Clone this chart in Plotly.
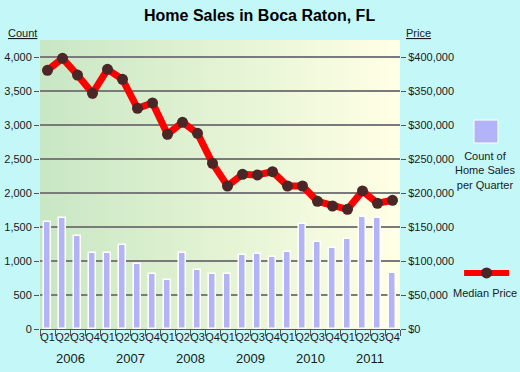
import plotly.graph_objects as go

quarters = ["Q1", "Q2", "Q3", "Q4"] * 6
years = ["2006", "2007", "2008", "2009", "2010", "2011"]
counts = [1570, 1628, 1363, 1113, 1113, 1231, 951, 804, 716, 1113, 863, 804,
          804, 1083, 1098, 1064, 1127, 1539, 1275, 1186, 1319, 1652, 1637, 819]
prices = [380400, 398000, 373500, 346600, 381900, 367200, 324500, 332400,
          286300, 304000, 287700, 243600, 210300, 227500, 226500, 231400,
          210300, 210300, 187800, 180900, 176000, 203000, 184900, 189300]
count_ticks = [0, 500, 1000, 1500, 2000, 2500, 3000, 3500, 4000]
count_labels = ["0", "500", "1,000", "1,500", "2,000", "2,500", "3,000", "3,500", "4,000"]
price_ticks = [0, 50000, 100000, 150000, 200000, 250000, 300000, 350000, 400000]
price_labels = ["$0", "$50,000", "$100,000", "$150,000", "$200,000", "$250,000",
                "$300,000", "$350,000", "$400,000"]

n = len(counts)
xs = list(range(n))
BAR = "#b3b3f7"
TXT = "#1a1a1a"
BG = "#c4f8f8"
FONT = "Liberation Sans, Arial, sans-serif"

fig = go.Figure()
fig.add_trace(go.Bar(x=xs, y=counts, width=0.45, marker=dict(color=BAR, line=dict(color="white", width=1.5)),
                     yaxis="y", xaxis="x", showlegend=False))
fig.add_trace(go.Scatter(x=xs, y=prices, mode="lines+markers", yaxis="y2", xaxis="x",
                         line=dict(color="#ff0000", width=7),
                         marker=dict(color="#4a2626", size=11), showlegend=False))

# gradient background strips
shapes = []
N = 72
c0 = (200, 231, 196)
c1 = (255, 255, 228)
for i in range(N):
    t = i / (N - 1)
    c = tuple(int(round(c0[k] + (c1[k] - c0[k]) * t)) for k in range(3))
    shapes.append(dict(type="rect", xref="paper", yref="paper", x0=i / N, x1=min(1, (i + 1) / N + 0.002),
                       y0=0, y1=1, fillcolor="rgb(%d,%d,%d)" % c, line=dict(width=0), layer="below"))

# legend shapes
shapes.append(dict(type="rect", xref="paper", yref="paper", x0=1.2056, x1=1.272, y0=0.6436, y1=0.723,
                   fillcolor=BAR, line=dict(color="white", width=1)))
shapes.append(dict(type="line", xref="paper", yref="paper", x0=1.178, x1=1.303, y0=0.194, y1=0.194,
                   line=dict(color="#ff0000", width=6)))
shapes.append(dict(type="circle", xref="paper", yref="paper", x0=1.2405 - 0.0155, x1=1.2405 + 0.0155,
                   y0=0.194 - 0.019, y1=0.194 + 0.019, fillcolor="#4a2626", line=dict(width=0)))

annotations = []
for i, yname in enumerate(years):
    annotations.append(dict(x=4 * i + 1.5, y=0, xref="x", yref="paper", yanchor="top", yshift=-20,
                            text=yname, showarrow=False, font=dict(size=13, color=TXT, family=FONT)))
annotations += [
    dict(x=0.611, y=1.0, xref="paper", yref="paper", xanchor="center", yanchor="middle", yshift=25,
         text="<b>Home Sales in Boca Raton, FL</b>", showarrow=False, font=dict(size=16, color="black", family=FONT)),
    dict(x=-0.05, y=1.0, xref="paper", yref="paper", xanchor="center", yanchor="middle", yshift=7,
         text="<u>Count</u>", showarrow=False, font=dict(size=11, color=TXT, family=FONT)),
    dict(x=1.05, y=1.0, xref="paper", yref="paper", xanchor="center", yanchor="middle", yshift=7,
         text="<u>Price</u>", showarrow=False, font=dict(size=11, color=TXT, family=FONT)),
    dict(x=1.2361, y=0.55, xref="paper", yref="paper", xanchor="center", yanchor="middle",
         text="Count of<br>Home Sales<br>per Quarter", showarrow=False, font=dict(size=11, color=TXT, family=FONT)),
    dict(x=1.2361, y=0.125, xref="paper", yref="paper", xanchor="center", yanchor="middle",
         text="Median Price", showarrow=False, font=dict(size=11, color=TXT, family=FONT)),
]

fig.update_layout(
    width=520, height=372,
    margin=dict(l=40, r=120, t=40, b=43, autoexpand=False),
    paper_bgcolor=BG,
    plot_bgcolor="rgba(0,0,0,0)",
    bargap=0,
    shapes=shapes,
    annotations=annotations,
    font=dict(family=FONT, size=11, color=TXT),
    xaxis=dict(range=[-0.5, n - 0.5], tickmode="array", tickvals=[i - 0.5 for i in range(n + 1)],
               ticktext=[""] * (n + 1), ticks="outside", ticklen=6, tickcolor="#555", tickwidth=1,
               showgrid=False, showline=True, linecolor="#555", linewidth=1, zeroline=False,
               automargin=False),
    xaxis2=dict(range=[-0.5, n - 0.5], overlaying="x", side="bottom", tickmode="array", tickvals=xs,
                ticktext=quarters, ticks="", showgrid=False, showline=False, zeroline=False, tickangle=0,
                tickfont=dict(size=11, color=TXT, family=FONT), anchor="y", automargin=False),
    yaxis=dict(range=[0, 4250], tickmode="array", tickvals=count_ticks, ticktext=count_labels,
               ticks="outside", ticklen=5, tickcolor="#555", showgrid=True, gridcolor="#7a7a7a",
               gridwidth=1.5, zeroline=False, showline=False, tickfont=dict(size=11, color=TXT),
               automargin=False),
    yaxis2=dict(range=[0, 425000], overlaying="y", side="right", tickmode="array", tickvals=price_ticks,
                ticktext=price_labels, ticks="outside", ticklen=5, tickcolor="#555", showgrid=False,
                zeroline=False, showline=False, tickfont=dict(size=11, color=TXT), automargin=False),
)
# dummy trace to activate xaxis2
fig.add_trace(go.Scatter(x=[xs[0]], y=[None], xaxis="x2", yaxis="y", showlegend=False, hoverinfo="skip"))

fig.write_html("out.html", config={"displayModeBar": False},
               post_script="document.body.style.margin='0';document.body.style.overflow='hidden';"
                           "document.body.style.background='" + BG + "';")
